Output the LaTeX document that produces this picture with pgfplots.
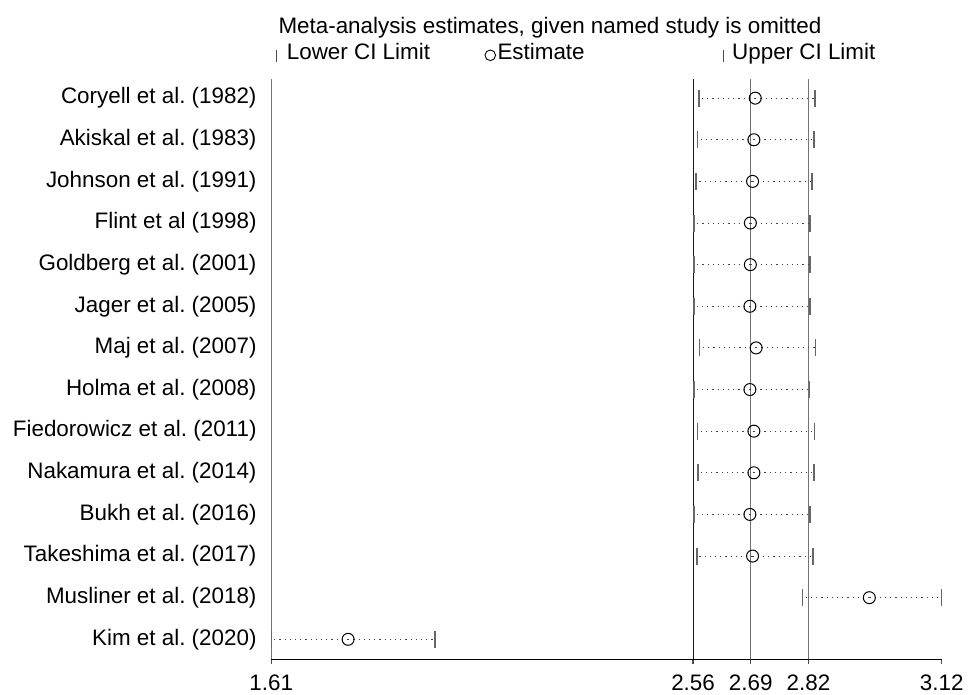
\documentclass[border=0pt]{standalone}
\usepackage{fontspec}
\setmainfont{Liberation Sans}
\usepackage{pgfplots}
\usepackage{pgfplotstable}
\pgfplotsset{compat=1.18}
\frenchspacing

% Leave-one-out meta-analysis: pooled estimate and CI with each study omitted
% y = row position (14 = first study listed at the top)
\pgfplotstableread{
y  lo     est    hi
14 2.573  2.700  2.835
13 2.570  2.697  2.832
12 2.567  2.694  2.828
11 2.562  2.689  2.823
10 2.562  2.689  2.823
9  2.562  2.688  2.823
8  2.574  2.702  2.836
7  2.562  2.688  2.822
6  2.570  2.697  2.834
5  2.571  2.697  2.832
4  2.562  2.688  2.823
3  2.569  2.694  2.830
2  2.807  2.957  3.120
1  1.610  1.783  1.979
}\infl

\newcommand\chartfont{\fontsize{22.4}{26}\selectfont}

\begin{document}
\begin{tikzpicture}
\path[use as bounding box] (-271.3pt,-35.7pt) rectangle (699.7pt,659.3pt);
\begin{axis}[
  at={(0pt,0pt)}, anchor=south west,
  scale only axis, width=670.4pt, height=580.3pt,
  xmin=1.61, xmax=3.12, ymin=0.52, ymax=14.46,
  axis x line*=bottom, axis y line*=left,
  x axis line style={-, black, line width=1.2pt},
  y axis line style={-, black!55, line width=1.2pt},
  xtick={1.61,2.56,2.69,2.82,3.12},
  xticklabels={1.61,2.56,2.69,2.82,3.12},
  xtick align=outside, major tick length=4.5pt,
  xtick style={black!70, line width=1.2pt},
  ytick={1,...,14},
  yticklabels={Kim et al. (2020), Musliner et al. (2018), Takeshima et al. (2017),
    Bukh et al. (2016), Nakamura et al. (2014), Fiedorowicz et al. (2011),
    Holma et al. (2008), Maj et al. (2007), Jager et al. (2005),
    Goldberg et al. (2001), Flint et al (1998), Johnson et al. (1991),
    Akiskal et al. (1983), Coryell et al. (1982)},
  ytick style={draw=none},
  yticklabel style={font=\chartfont, anchor=east, inner sep=0pt, xshift=-14.6pt},
  xticklabel style={font=\chartfont, anchor=base, inner sep=0pt, yshift=-26.5pt},
  clip=false,
]
% overall estimate and its confidence limits
\addplot[black!90, line width=1.1pt] coordinates {(2.56,0.52) (2.56,14.46)};
\addplot[black!55, line width=1.2pt] coordinates {(2.69,0.52) (2.69,14.46)};
\addplot[black!55, line width=1.2pt] coordinates {(2.82,0.52) (2.82,14.46)};

% dotted interval for each omitted study
\addplot[draw=none, error bars/.cd, x dir=both, x explicit, error mark=none,
  error bar style={draw=black!75, line width=1pt, dash pattern=on 1.2pt off 4pt}]
  table[x=est, y=y, x error plus expr=\thisrow{hi}-\thisrow{est},
        x error minus expr=\thisrow{est}-\thisrow{lo}] {\infl};

% lower and upper limits
\addplot[only marks, mark=|, mark size=8.5pt, mark options={draw=black!60, line width=1.4pt}]
  table[x=lo, y=y] {\infl};
\addplot[only marks, mark=|, mark size=8.5pt, mark options={draw=black!60, line width=1.4pt}]
  table[x=hi, y=y] {\infl};

% point estimates
\addplot[only marks, mark=o, mark size=6pt, mark options={draw=black, line width=1pt}]
  table[x=est, y=y] {\infl};
\end{axis}

% title and key
\node[anchor=base west, inner sep=0pt, font=\chartfont] at (7pt,626pt)
  {Meta-analysis estimates, given named study is omitted};
\draw[black!70, line width=1pt] (4.7pt,597.5pt) -- (4.7pt,609.5pt);
\node[anchor=base west, inner sep=0pt, font=\chartfont] at (15.4pt,599.3pt) {Lower CI Limit};
\draw[black, line width=0.9pt] (219pt,604pt) circle (5.3pt);
\node[anchor=base west, inner sep=0pt, font=\chartfont] at (226pt,599.3pt) {Estimate};
\draw[black!70, line width=1pt] (451.7pt,597.5pt) -- (451.7pt,609.5pt);
\node[anchor=base west, inner sep=0pt, font=\chartfont] at (460.7pt,599.3pt) {Upper CI Limit};
\end{tikzpicture}
\end{document}
